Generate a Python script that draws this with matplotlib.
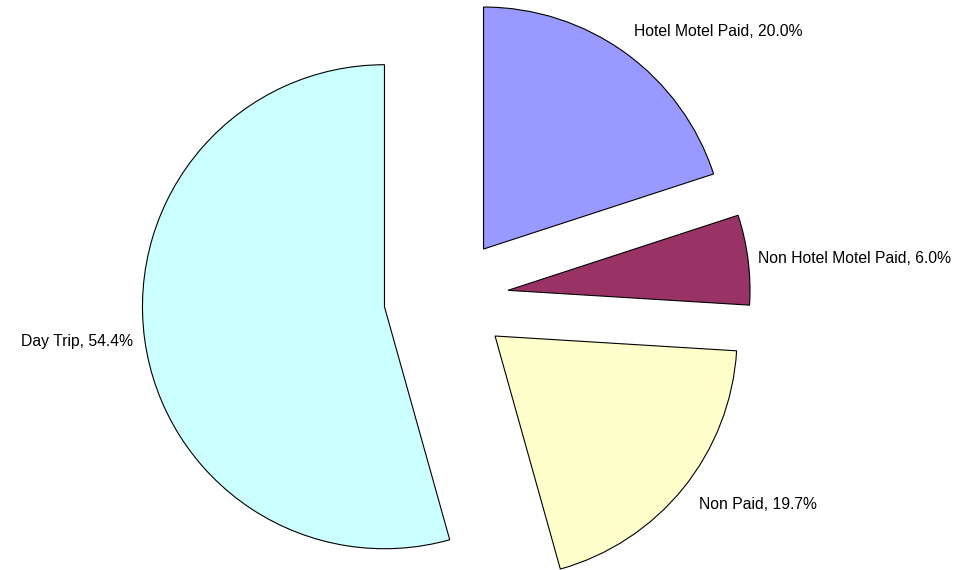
import numpy as np
import matplotlib.pyplot as plt

plt.rcParams['font.family'] = ['Liberation Sans', 'DejaVu Sans']

# data
categories = ['Hotel Motel Paid', 'Non Hotel Motel Paid', 'Non Paid', 'Day Trip']
shares = [20.0, 6.0, 19.7, 54.4]
colors = ['#9999FF', '#993366', '#FFFFCC', '#CCFFFF']

labels = ['%s, %.1f%%' % (c, s) for c, s in zip(categories, shares)]
explode = [0.25, 0.25, 0.25, 0.265]
label_dist = [1.093, 1.04, 1.095, 1.05]
label_turn = [1.0, 0.0, -0.5, 0.0]   # small angle tweak in degrees

fig = plt.figure(figsize=[9.79, 5.70], dpi=100)
ax = fig.add_axes([0, 0, 1, 1])

wedges, texts = ax.pie(shares, labels=labels, colors=colors, startangle=90,
                       counterclock=False, explode=explode,
                       wedgeprops=dict(edgecolor='black', linewidth=0.8),
                       textprops=dict(fontsize=11.3, color='black'))

# move labels out along each wedge's middle angle
for w, t, e, ld, dt in zip(wedges, texts, explode, label_dist, label_turn):
    mid = np.deg2rad((w.theta1 + w.theta2) / 2 + dt)
    t.set_position(((e + ld) * np.cos(mid), (e + ld) * np.sin(mid)))

# pixel layout: pie centre at (448, 298) px, radius 242 px
r_px = 242.0
ax.set_xlim(-448 / r_px, (979 - 448) / r_px)
ax.set_ylim(-(570 - 298) / r_px, 298 / r_px)
ax.set_aspect('auto')
ax.axis('off')

plt.savefig("out.png", dpi=100)
